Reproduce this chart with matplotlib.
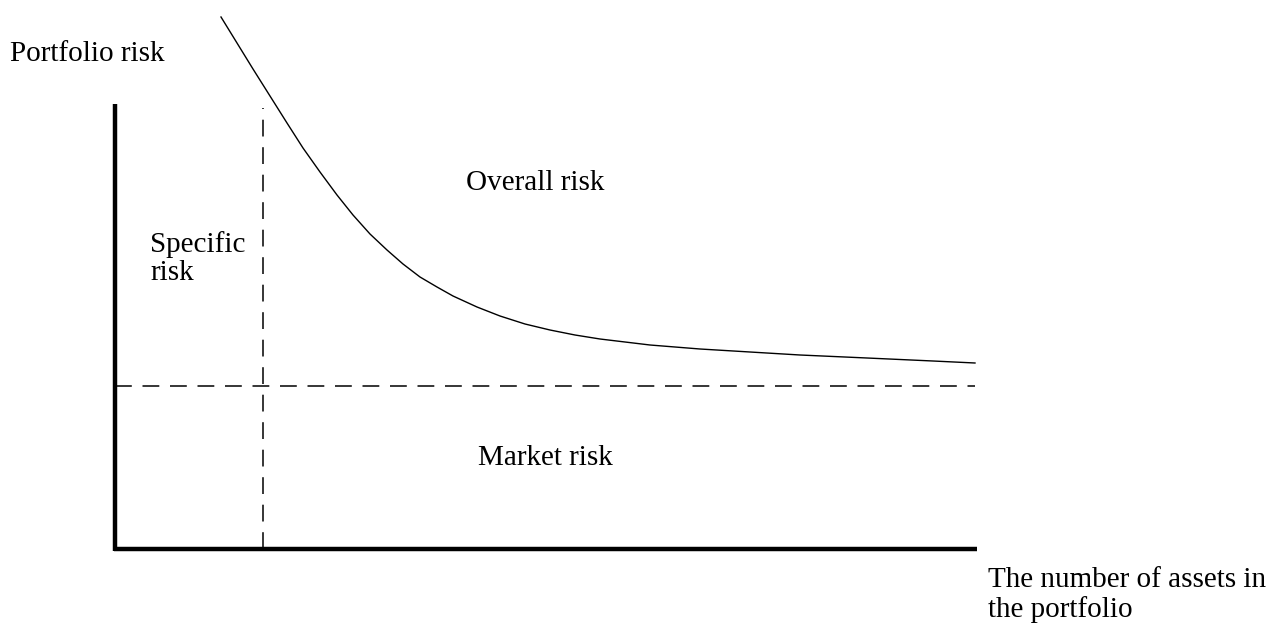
import matplotlib
matplotlib.use("Agg")
import matplotlib.pyplot as plt

# Diagram drawn in pixel space of the original picture (y grows downward)
W, H = 1284, 626

# Overall risk curve
curve_x = [221, 237, 253, 270, 287, 303, 320, 337, 353, 370, 387, 403, 420, 437, 453,
           477, 500, 525, 550, 575, 600, 650, 700, 750, 800, 867, 933, 975]
curve_y = [17, 43, 69, 96, 123, 148, 172, 195, 215, 234, 250, 264, 277, 287, 296,
           307, 316, 324, 330, 335, 339, 345, 349, 352, 355, 358, 361, 363]

# axes and guide lines
axis_x0, axis_x1 = 115, 977
axis_ytop, axis_ybase = 104, 549
market_level = 386
specific_x = 263
dash_top = 108

labels = [
    ("Portfolio risk", 10, 54),
    ("Overall risk", 466, 183),
    ("Specific\nrisk", 150, 259),
    ("Market risk", 478, 458),
    ("The number of assets in\nthe portfolio", 988, 595),
]

FONT = "Liberation Serif"

fig = plt.figure(figsize=(W / 100, H / 100), dpi=100, facecolor="white")
ax = fig.add_axes([0, 0, 1, 1])
ax.set_xlim(0, W)
ax.set_ylim(H, 0)
ax.axis("off")

# axes
ax.plot([axis_x0, axis_x0], [axis_ytop, axis_ybase + 1.5], color="black", lw=3.2,
        solid_capstyle="butt")
ax.plot([axis_x0 - 1.5, axis_x1], [axis_ybase, axis_ybase], color="black", lw=3.2,
        solid_capstyle="butt")

# guides (vertical one drawn upward so a dash meets the baseline)
ax.plot([axis_x0, axis_x1 - 2], [market_level, market_level], color="black", lw=1.1,
        dashes=(11, 7))
ax.plot([specific_x, specific_x], [axis_ybase, dash_top], color="black", lw=1.1,
        dashes=(11, 7))

# overall risk curve
ax.plot(curve_x, curve_y, color="black", lw=1.0)

for txt, x, y in labels:
    ax.text(x, y, txt, ha="left", va="center", fontfamily=FONT, fontsize=21,
            color="black", linespacing=1.1)

fig.savefig("out.png", dpi=100, facecolor="white")
plt.close(fig)
